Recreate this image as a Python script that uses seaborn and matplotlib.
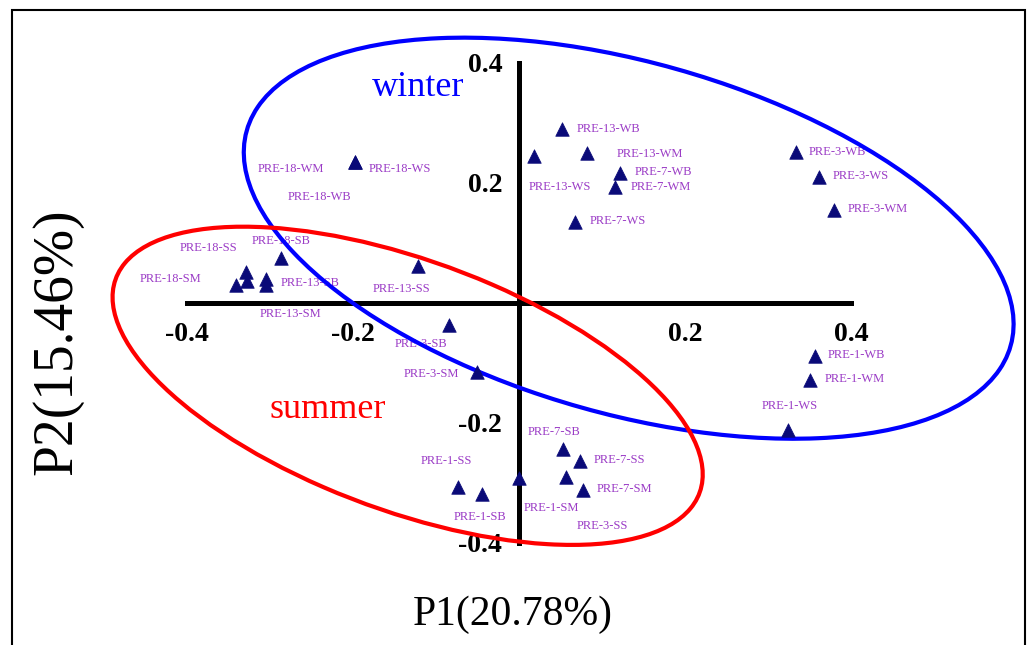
import numpy as np
import pandas as pd
import matplotlib
matplotlib.use("Agg")
import matplotlib.pyplot as plt
from matplotlib.patches import Ellipse, Rectangle
import seaborn as sns

# sample scores
samples = ['PRE-13-WB', 'PRE-13-WS', 'PRE-13-WM', 'PRE-7-WB', 'PRE-7-WM', 'PRE-7-WS',
           'PRE-18-WS', 'PRE-18-WM', 'PRE-18-WB', 'PRE-3-WB', 'PRE-3-WS', 'PRE-3-WM',
           'PRE-1-WB', 'PRE-1-WM', 'PRE-1-WS',
           'PRE-18-SB', 'PRE-18-SS', 'PRE-18-SM', 'PRE-13-SB', 'PRE-13-SM', 'PRE-13-SS',
           'PRE-3-SB', 'PRE-3-SM', 'PRE-7-SB', 'PRE-7-SS', 'PRE-3-SS', 'PRE-7-SM',
           'PRE-1-SM', 'PRE-1-SB', 'PRE-1-SS']
p1 = [0.052, 0.018, 0.082, 0.122, 0.116, 0.067,
      -0.197, -0.197, -0.327, 0.333, 0.361, 0.379,
      0.356, 0.350, 0.324,
      -0.286, -0.328, -0.340, -0.304, -0.304, -0.121,
      -0.084, -0.051, 0.053, 0.073, 0.057, 0.077,
      0.000, -0.045, -0.074]
p2 = [0.290, 0.245, 0.250, 0.217, 0.193, 0.135,
      0.235, 0.235, 0.037, 0.252, 0.210, 0.155,
      -0.088, -0.128, -0.212,
      0.075, 0.051, 0.030, 0.040, 0.030, 0.061,
      -0.037, -0.115, -0.244, -0.263, -0.290, -0.312,
      -0.292, -0.318, -0.307]

ticks = [-0.4, -0.2, 0.2, 0.4]
tick_labels = ['-0.4', '-0.2', '0.2', '0.4']

# where each name sits relative to its marker (pixels, right / up)
label_dx = [46, 26, 63, 43, 45, 43, 45, -64, 72, 42, 42, 44, 42, 45, 1,
            0, -38, -66, 44, 24, -17, -28, -45, -9, 40, 36, 41, 32, -2, -11]
label_dy = [0, -31, -1, 1, 0, 1, -7, -7, 84, 0, 1, 1, 1, 1, 24,
            17, 24, 6, -4, -29, -23, -19, -2, 17, 1, -49, 1, -30, -23, 26]

df = pd.DataFrame({'sample': samples, 'P1': p1, 'P2': p2})

sns.set_style('white')
plt.rcParams['font.family'] = ['Liberation Serif', 'DejaVu Serif']
plt.rcParams['text.color'] = 'black'

fig = plt.figure(figsize=(10.3, 6.45), dpi=100)
ax = fig.add_axes([0, 0, 1, 1])
ax.set_xlim(-519 / 831, 511 / 831)
ax.set_ylim(-342 / 600, 303 / 600)
ax.patch.set_alpha(0)

# axes crossing at origin
for side in ['top', 'right']:
    ax.spines[side].set_visible(False)
for side in ['left', 'bottom']:
    ax.spines[side].set_position(('data', 0))
    ax.spines[side].set_bounds(-0.4, 0.4)
    ax.spines[side].set_linewidth(3.6)
    ax.spines[side].set_color('black')
ax.set_xticks(ticks, tick_labels, fontweight='bold')
ax.set_yticks(ticks, tick_labels, fontweight='bold')
ax.tick_params(axis='both', direction='out', length=9, width=3.6,
               labelsize=20, color='black', labelcolor='black')
ax.tick_params(axis='x', pad=5)
ax.tick_params(axis='y', pad=3)

sns.scatterplot(data=df, x='P1', y='P2', marker='^', s=95, color='#0a0a78',
                edgecolor='#0a0a78', linewidth=0.5, zorder=5, ax=ax, legend=False)
ax.set_xlabel('')
ax.set_ylabel('')

for name, x, y, dx, dy in zip(samples, p1, p2, label_dx, label_dy):
    ax.annotate(name, (x, y), xytext=(dx, dy), textcoords='offset pixels',
                ha='center', va='center', fontsize=9, color='#9b3cc6', zorder=3)

# group ellipses
ax.add_patch(Ellipse((0.132, 0.108), 0.994, 0.563, angle=-26.1, fill=False,
                     edgecolor='#0000ff', linewidth=3, zorder=4))
ax.add_patch(Ellipse((-0.134, -0.138), 0.794, 0.394, angle=-31.0, fill=False,
                     edgecolor='#ff0000', linewidth=3, zorder=4))

fig.text(418 / 1030, 1 - 88 / 645, 'winter', color='#0000ff', fontsize=26,
         ha='center', va='center')
fig.text(328 / 1030, 1 - 410 / 645, 'summer', color='#ff0000', fontsize=26,
         ha='center', va='center')

fig.text(513 / 1030, 1 - 615 / 645, 'P1(20.78%)', fontsize=30, color='black',
         ha='center', va='center')
fig.text(57 / 1030, 1 - 342 / 645, 'P2(15.46%)', fontsize=40, rotation=90,
         color='black', ha='center', va='center')

# outer frame, open at the bottom edge
fig.patches.append(Rectangle((12 / 1030, -0.05), 1013 / 1030, 1.05 - 10 / 645,
                             transform=fig.transFigure, fill=False,
                             edgecolor='black', linewidth=1.5, clip_on=False))

fig.savefig('out.png', dpi=100)
